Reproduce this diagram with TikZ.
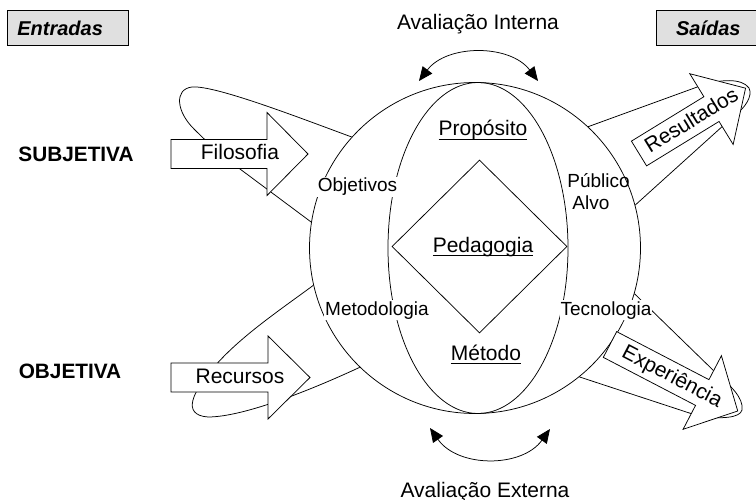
\documentclass[tikz,border=0pt]{standalone}
\usepackage{fontspec}
\setmainfont{Liberation Sans}
\usetikzlibrary{shapes.geometric,arrows.meta}

% underline at a fixed depth below the baseline
\newcommand{\ulword}[1]{\setbox0\hbox{#1}\rlap{\rule[-3.5pt]{\wd0}{0.9pt}}\box0}
% block arrow along the local x axis: body length #1, head length #2
\newcommand{\fatarrow}[2]{\draw[flowarrow] (0,-14.5) -- (#1,-14.5) -- (#1,-41.5) -- ({#1+#2},0) -- (#1,41.5) -- (#1,14.5) -- (0,14.5) -- cycle;}

\begin{document}
\begin{tikzpicture}[x=1pt,y=-1pt,line width=0.75pt,
  bigtext/.style={font=\fontsize{21}{25}\selectfont},
  smalltext/.style={font=\fontsize{19}{22}\selectfont},
  sidetext/.style={font=\fontsize{20.8}{25}\selectfont\bfseries},
  cutlabel/.style={smalltext, fill=white, inner sep=1pt},
  tagbox/.style={draw, fill=black!12, minimum height=35pt, inner xsep=10pt, inner ysep=0pt,
    font=\fontsize{20}{24}\selectfont\bfseries\itshape},
  flowarrow/.style={draw, fill=white, line join=miter},
  evalarrow/.style={{Triangle[length=14pt,width=12pt]}-{Triangle[length=14pt,width=12pt]}},
]
\useasboundingbox (0,0) rectangle (756,500);
\clip (0,0) rectangle (756,500);

% headers
\node[tagbox, anchor=north west, text width=101pt, align=left] (entradas) at (7,10) {Entradas};
\node[tagbox, anchor=north west, text width=84pt, align=center] (saidas) at (656,10) {Saídas};

% the sphere
\node[circle, draw, fill=white, minimum size=331pt, inner sep=0pt] (globe) at (475,248) {};

% input loops
\draw (globe.138) .. controls (300,118) and (215,85) .. (192,87)
  .. controls (174,89) and (176,112) .. (195,130)
  .. controls (215,150) and (228,160) .. (240,169) -- (globe.171);
\draw (globe.193.6) .. controls (280,310) and (235,340) .. (210,372)
  .. controls (195,390) and (180,415) .. (208,417)
  .. controls (240,417) and (300,395) .. (globe.226);

% output funnels
\draw (globe.47) -- (700,86) .. controls (720,79) and (742,78) .. (749,88)
  .. controls (753,96) and (745,108) .. (735,115) -- (globe.15);
\draw (globe.344) -- (715,372) .. controls (730,385) and (744,398) .. (742,410)
  .. controls (740,418) and (722,419) .. (700,416.5) -- (globe.309);

% inner shapes
\node[ellipse, draw, minimum width=180pt, minimum height=331pt, inner sep=0pt] (lens) at (478,248) {};
\node[diamond, draw, minimum width=175pt, minimum height=173pt, inner sep=0pt] (core) at (479.5,246.5) {};

% evaluation cycles
\coordinate (intL) at (419,81);
\coordinate (intR) at (538,81);
\draw[evalarrow] (intL) .. controls (447,44) and (510,44) .. (intR);
\coordinate (extL) at (430,428);
\coordinate (extR) at (550,429);
\draw[evalarrow] (extL) .. controls (458,468) and (522,468) .. (extR);

% texts
\node[bigtext, anchor=base] (avint) at (478,30) {Avaliação Interna};
\node[bigtext, anchor=base] (avext) at (485,497) {Avaliação Externa};
\node[sidetext, anchor=base] (subj) at (76,162) {SUBJETIVA};
\node[sidetext, anchor=base] (obj) at (70,378) {OBJETIVA};

\node[bigtext, anchor=base] (prop) at (483,136) {\ulword{Propósito}};
\node[bigtext, anchor=base] (peda) at (483,252) {\ulword{Pedagogia}};
\node[bigtext, anchor=base] (meto) at (486,360) {\ulword{Método}};

\node[cutlabel, anchor=base] (objv) at (357.5,192) {Objetivos};
\node[cutlabel, anchor=base] (metl) at (377,315) {Metodologia};
\node[cutlabel, anchor=base] (tecn) at (606,315) {Tecnologia};
\node[smalltext, anchor=base west, inner sep=0pt] (publico) at (567,188) {Público};
\node[smalltext, anchor=base west, inner sep=0pt] (alvo) at (572,210) {Alvo};

% block arrows
\begin{scope}[shift={(171,154)}]
  \fatarrow{96}{41}
  \node[bigtext, anchor=base] (filosofia) at (69,6) {Filosofia};
\end{scope}
\begin{scope}[shift={(171,377.5)}]
  \fatarrow{97}{42}
  \node[bigtext, anchor=base] (recursos) at (69,5.5) {Recursos};
\end{scope}
\begin{scope}[shift={(639,153.5)}, rotate=31.5]
  \fatarrow{85}{40}
  \node[bigtext, anchor=base, rotate=31.5] (resultados) at (62,6) {Resultados};
\end{scope}
\begin{scope}[shift={(610,344.5)}, rotate=-27.5]
  \fatarrow{104}{40}
  \node[bigtext, anchor=base, rotate=-27.5] (experiencia) at (70,6) {Experiência};
\end{scope}
\end{tikzpicture}
\end{document}
